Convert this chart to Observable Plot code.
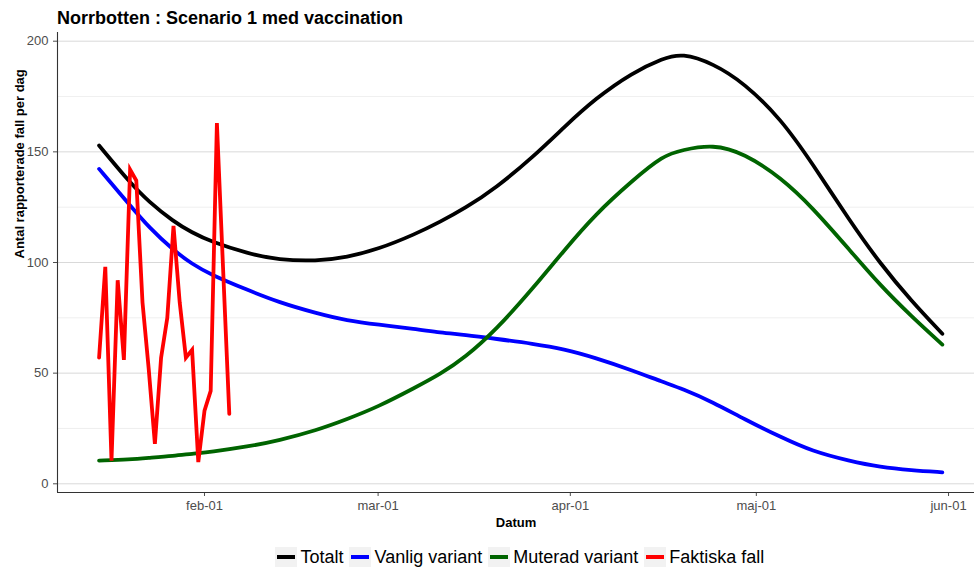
<!DOCTYPE html>
<html><head><meta charset="utf-8">
<script src="https://cdn.jsdelivr.net/npm/d3@7"></script>
<script src="https://cdn.jsdelivr.net/npm/@observablehq/plot@0.6"></script>
<style>
body{margin:0;background:#fff;font-family:"Liberation Sans",Arial,sans-serif;width:974px;overflow:hidden}
#title{height:32px;box-sizing:border-box;padding:4px 0 0 57px;font-weight:bold;font-size:18px;line-height:28px;color:#000;white-space:nowrap}
#chart svg{display:block}
#legend{height:26px;display:flex;align-items:center;padding-left:275px;padding-top:4px;box-sizing:border-box;font-size:18px;color:#000}
.key{width:22px;height:20px;background:#f2f2f2;display:flex;align-items:center;justify-content:center;flex:none}
.key span{display:block;width:18px;height:4px}
.lab{margin:0 5.5px 0 3.5px;white-space:nowrap}
</style></head><body>
<div id="title"></div><div id="chart"></div><div id="legend"></div>
<script>
const titleText = "Norrbotten : Scenario 1 med vaccination";
const yLabel = "Antal rapporterade fall per dag";
const xLabel = "Datum";

const seriesNames = ["Totalt", "Vanlig variant", "Muterad variant", "Faktiska fall"];
const seriesColors = ["#000000", "#0000ff", "#006400", "#ff0000"];

const modelDates = ["2021-01-15","2021-01-20","2021-01-23","2021-01-27","2021-01-30","2021-02-02","2021-02-08","2021-02-13","2021-02-19","2021-02-24","2021-03-01","2021-03-07","2021-03-11","2021-03-15","2021-03-20","2021-03-26","2021-03-31","2021-04-05","2021-04-11","2021-04-16","2021-04-19","2021-04-24","2021-04-29","2021-05-05","2021-05-10","2021-05-16","2021-05-21","2021-05-26","2021-05-31"];
const totalt  = [152.9,136,127.5,118.5,113.5,109.5,104,101.2,100.6,102.4,106,112.8,118.4,124.5,133.7,147.7,161.2,174,185.8,192.3,194.6,190,181.2,164.8,144.9,119.1,99.4,82.6,67.8];
const vanlig  = [142.3,125.8,116,105.5,99.3,94.5,87.5,82,77.1,73.7,71.9,70,68.3,67.3,65.5,63.3,60.9,57,51.3,45.9,43,36.9,29.3,21,14.7,10.3,7.5,6.1,5.2];
const muterad = [10.5,11,11.7,12.6,13.6,14.4,16.8,19.6,24.1,29.2,34.8,43.5,49.5,57,69.5,88.4,105.5,121.7,137,148.4,150.8,153.4,149.4,138.3,125,105.8,89.6,75.7,62.9];

const faktiskaDates = ["2021-01-15","2021-01-16","2021-01-17","2021-01-18","2021-01-19","2021-01-20","2021-01-21","2021-01-22","2021-01-23","2021-01-24","2021-01-25","2021-01-26","2021-01-27","2021-01-28","2021-01-29","2021-01-30","2021-01-31","2021-02-01","2021-02-02","2021-02-03","2021-02-04","2021-02-05"];
const faktiska = [57,98,10.5,92,56,142,137,82,52,18,57,75,116.5,82,57,60.5,9.8,33,42,163,97,31.6];

const xTickDates = ["2021-02-01","2021-03-01","2021-04-01","2021-05-01","2021-06-01"];
const xTickLabels = ["feb-01","mar-01","apr-01","maj-01","jun-01"];
const yMajor = [0,50,100,150,200];
const yMinor = [25,75,125,175];
const xDomain = ["2021-01-08T07:00Z","2021-06-05T04:30Z"];
const yDomain = [-3.93, 203.93];

const parse = s => new Date(s.length === 10 ? s + "T00:00Z" : s);
const modelSeries = [totalt, vanlig, muterad];
const modelRows = modelSeries.map((vals, k) => vals.map((v, i) => ({date: parse(modelDates[i]), value: v, k})));
const factRows = faktiska.map((v, i) => ({date: parse(faktiskaDates[i]), value: v}));
const tickMap = new Map(xTickDates.map((d, i) => [+parse(d), xTickLabels[i]]));

document.getElementById("title").textContent = titleText;

const marks = [
  Plot.ruleY(yMinor, {stroke: "#ebebeb", strokeWidth: 0.8}),
  Plot.ruleY(yMajor, {stroke: "#d9d9d9", strokeWidth: 1}),
  Plot.axisY({ticks: yMajor, tickSize: 4, tickPadding: 5, label: null, fontSize: 13}),
  Plot.axisX({ticks: xTickDates.map(parse), tickFormat: d => tickMap.get(+d), tickSize: 4, tickPadding: 4, label: null, fontSize: 13}),
  Plot.ruleX([parse(xDomain[0])], {stroke: "#333", strokeWidth: 1.1}),
  Plot.ruleY([yDomain[0]], {stroke: "#333", strokeWidth: 1.1}),
  ...modelRows.map((rows, k) => Plot.line(rows, {x: "date", y: "value", stroke: seriesColors[k], strokeWidth: 3.8, curve: "basis"})),
  Plot.line(factRows, {x: "date", y: "value", stroke: seriesColors[3], strokeWidth: 3.8, strokeLinejoin: "miter", strokeMiterlimit: 4}),
  Plot.text([yLabel], {frameAnchor: "left", rotate: -90, dx: -38, dy: -4, fontWeight: "bold", fontSize: 13, fill: "#000", lineAnchor: "middle"}),
  Plot.text([xLabel], {frameAnchor: "bottom", dy: 30, fontWeight: "bold", fontSize: 13, fill: "#000", lineAnchor: "middle"})
];

const chart = Plot.plot({
  width: 974,
  height: 510,
  marginLeft: 57,
  marginRight: 0,
  marginTop: 0,
  marginBottom: 50,
  style: {fontFamily: '"Liberation Sans", Arial, sans-serif', fontSize: "13px", color: "#4d4d4d", background: "#fff"},
  x: {type: "utc", domain: xDomain.map(parse)},
  y: {domain: yDomain},
  marks
});
document.getElementById("chart").appendChild(chart);

const legend = document.getElementById("legend");
seriesNames.forEach((name, i) => {
  const key = document.createElement("div");
  key.className = "key";
  const seg = document.createElement("span");
  seg.style.background = seriesColors[i];
  key.appendChild(seg);
  const lab = document.createElement("div");
  lab.className = "lab";
  lab.textContent = name;
  legend.appendChild(key);
  legend.appendChild(lab);
});
</script>
</body></html>
